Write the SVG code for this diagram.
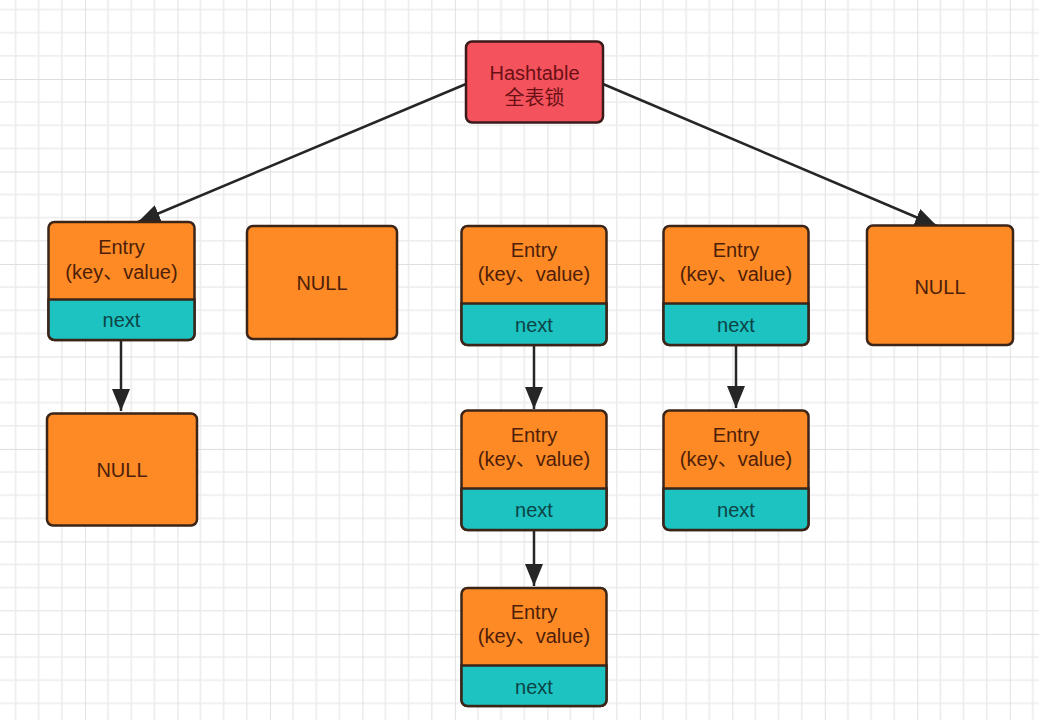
<svg xmlns="http://www.w3.org/2000/svg" width="1039" height="720" viewBox="0 0 1039 720">
<defs>
<pattern id="grid" patternUnits="userSpaceOnUse" x="-7.52" y="-13.48" width="92.48" height="92.48">
<path d="M23.12 0V92.48M46.24 0V92.48M69.36 0V92.48M0 23.12H92.48M0 46.24H92.48M0 69.36H92.48" stroke="#ececec" stroke-width="1.6" fill="none"/>
<path d="M0 0V92.48M0 0H92.48" stroke="#dedede" stroke-width="1.8" fill="none"/>
</pattern>
<marker id="arr" markerUnits="userSpaceOnUse" markerWidth="24" markerHeight="18" refX="22" refY="9" orient="auto">
<path d="M0 0L22 9L0 18Z" fill="#262626"/>
</marker>
<style>
.box{stroke:#3a2518;stroke-width:2.5}
.ent{fill:#fd8a24}
.nxt{fill:#1cc3c1}
.hash{fill:#f4525c;stroke:#3a1a1a;stroke-width:2.5}
text{font-family:"Liberation Sans","Noto Sans CJK SC",sans-serif;font-size:20px;text-anchor:middle}
.t1{fill:#4e1e0a}
.t2{fill:#0d4446}
.t3{fill:#6a1015}
.edge{stroke:#262626;stroke-width:2.5;fill:none;marker-end:url(#arr)}
</style>
</defs>
<rect width="1039" height="720" fill="#ffffff"/>
<rect width="1039" height="720" fill="url(#grid)"/>

<g id="connectors">
<line class="edge" x1="466" y1="84" x2="138" y2="222"/>
<line class="edge" x1="603" y1="84" x2="937" y2="226"/>
<line class="edge" x1="121" y1="341" x2="121" y2="411"/>
<line class="edge" x1="534" y1="346" x2="534" y2="409"/>
<line class="edge" x1="534" y1="531" x2="534" y2="586"/>
<line class="edge" x1="736" y1="346" x2="736" y2="408"/>
</g>

<g id="hashtable">
<rect class="hash" x="466" y="41.5" width="137" height="81" rx="6"/>
<text class="t3" x="534.5" y="80">Hashtable</text>
<text class="t3" x="534.5" y="105">全表锁</text>
</g>

<g id="entry1">
<rect class="box ent" x="48.5" y="222" width="146" height="118" rx="6"/>
<path class="box nxt" d="M48.5 299.5H194.5V334A6 6 0 0 1 188.5 340H54.5A6 6 0 0 1 48.5 334Z"/>
<text class="t1" x="121.5" y="254">Entry</text>
<text class="t1" x="121.5" y="279">(key、value)</text>
<text class="t2" x="121.5" y="327">next</text>
</g>

<g id="null1">
<rect class="box ent" x="47" y="413.5" width="150" height="112" rx="6"/>
<text class="t1" x="122" y="477">NULL</text>
</g>

<g id="null2">
<rect class="box ent" x="247" y="226" width="150" height="113" rx="6"/>
<text class="t1" x="322" y="290">NULL</text>
</g>

<g id="entry3a">
<rect class="box ent" x="461.5" y="226" width="145" height="119" rx="6"/>
<path class="box nxt" d="M461.5 303.5H606.5V339A6 6 0 0 1 600.5 345H467.5A6 6 0 0 1 461.5 339Z"/>
<text class="t1" x="534" y="257">Entry</text>
<text class="t1" x="534" y="281">(key、value)</text>
<text class="t2" x="534" y="332">next</text>
</g>

<g id="entry3b">
<rect class="box ent" x="461.5" y="410.5" width="145" height="119.5" rx="6"/>
<path class="box nxt" d="M461.5 488.5H606.5V524A6 6 0 0 1 600.5 530H467.5A6 6 0 0 1 461.5 524Z"/>
<text class="t1" x="534" y="442">Entry</text>
<text class="t1" x="534" y="466">(key、value)</text>
<text class="t2" x="534" y="517">next</text>
</g>

<g id="entry3c">
<rect class="box ent" x="461.5" y="588" width="145" height="118" rx="6"/>
<path class="box nxt" d="M461.5 665.5H606.5V700A6 6 0 0 1 600.5 706H467.5A6 6 0 0 1 461.5 700Z"/>
<text class="t1" x="534" y="619">Entry</text>
<text class="t1" x="534" y="643">(key、value)</text>
<text class="t2" x="534" y="694">next</text>
</g>

<g id="entry4a">
<rect class="box ent" x="663.5" y="226" width="145" height="119" rx="6"/>
<path class="box nxt" d="M663.5 303.5H808.5V339A6 6 0 0 1 802.5 345H669.5A6 6 0 0 1 663.5 339Z"/>
<text class="t1" x="736" y="257">Entry</text>
<text class="t1" x="736" y="281">(key、value)</text>
<text class="t2" x="736" y="332">next</text>
</g>

<g id="entry4b">
<rect class="box ent" x="663.5" y="410.5" width="145" height="119.5" rx="6"/>
<path class="box nxt" d="M663.5 488.5H808.5V524A6 6 0 0 1 802.5 530H669.5A6 6 0 0 1 663.5 524Z"/>
<text class="t1" x="736" y="442">Entry</text>
<text class="t1" x="736" y="466">(key、value)</text>
<text class="t2" x="736" y="517">next</text>
</g>

<g id="null5">
<rect class="box ent" x="867" y="225.5" width="146" height="119.5" rx="6"/>
<text class="t1" x="940" y="294">NULL</text>
</g>
</svg>
